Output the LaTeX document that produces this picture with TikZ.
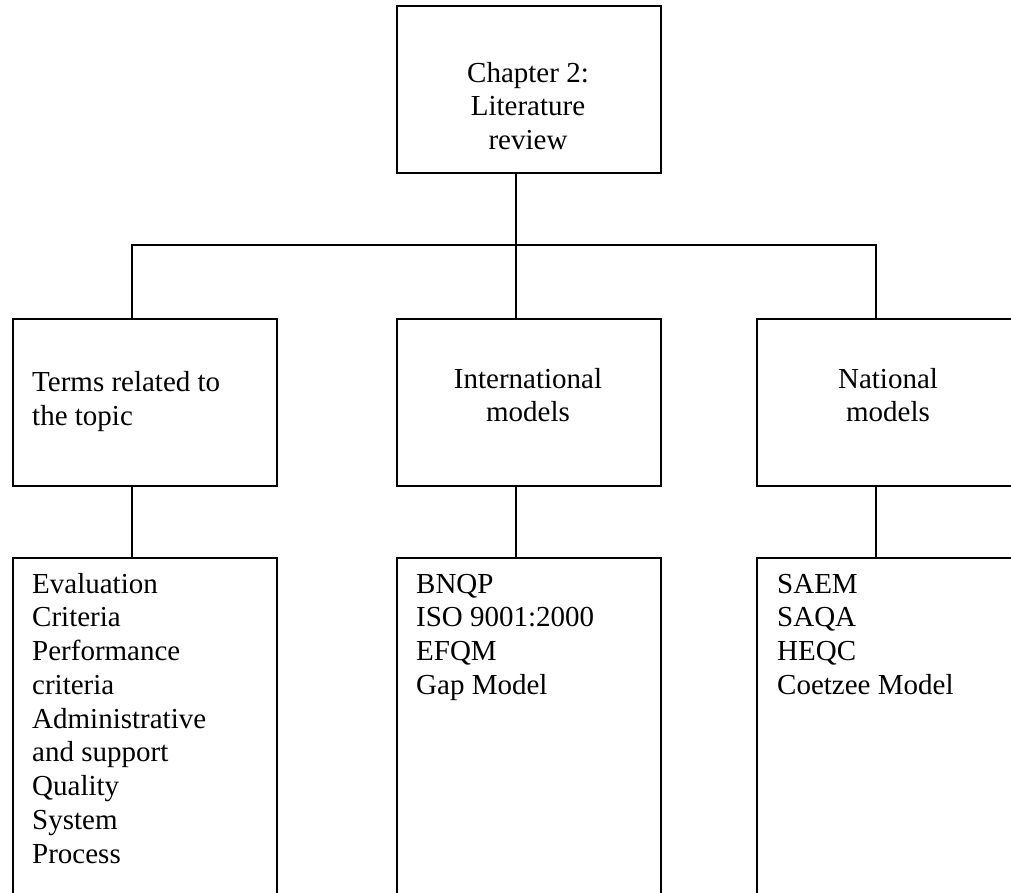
\documentclass[tikz,border=0pt]{standalone}
\usepackage{fontspec}
\setmainfont{Liberation Serif}
\usetikzlibrary{positioning}
\tikzset{
  box/.style={draw, line width=1.8pt, rectangle, inner sep=0pt, anchor=north west,
              minimum width=264pt},
  upper/.style={box, minimum height=167pt},
  lower/.style={box, minimum height=360pt},
  label text/.style={inner sep=0pt, font=\fontsize{29pt}{33.75pt}\selectfont},
  link/.style={line width=1.8pt, line cap=rect}
}
\newcommand{\linesleft}[1]{\begin{tabular}[t]{@{}l@{}}#1\end{tabular}}
\newcommand{\linescentre}[1]{\begin{tabular}[t]{@{}c@{}}#1\end{tabular}}
\begin{document}
\begin{tikzpicture}[x=1pt, y=-1pt]
  \clip (0,0) rectangle (1011,892);
  \fill[white] (0,0) rectangle (1011,892);

  % boxes
  \node[upper] (top) at (396,5) {};
  \node[upper] (terms) at (12,318) {};
  \node[upper] (intl) at (396,318) {};
  \node[upper] (natl) at (756,318) {};
  \node[lower] (termlist) at (12,557) {};
  \node[lower] (intllist) at (396,557) {};
  \node[lower] (natllist) at (756,557) {};

  % texts
  \node[label text, anchor=base] (toptext) at (528,82) {\linescentre{Chapter 2:\\Literature\\review}};
  \node[label text, anchor=base west] (termstext) at (32,391.5) {\linesleft{Terms related to\\the topic}};
  \node[label text, anchor=base] (intltext) at (528,388) {\linescentre{International\\models}};
  \node[label text, anchor=base] (natltext) at (888,388) {\linescentre{National\\models}};
  \node[label text, anchor=base west] (termlisttext) at (32,593)
    {\linesleft{Evaluation\\Criteria\\Performance\\criteria\\Administrative\\and support\\Quality\\System\\Process}};
  \node[label text, anchor=base west] (intllisttext) at (416,593)
    {\linesleft{BNQP\\ISO 9001:2000\\EFQM\\Gap Model}};
  \node[label text, anchor=base west] (natllisttext) at (777,593)
    {\linesleft{SAEM\\SAQA\\HEQC\\Coetzee Model}};

  % junctions on the branching bar
  \coordinate (jl) at (132,245);
  \coordinate (jm) at (516,245);
  \coordinate (jr) at (876,245);

  % connectors
  \draw[link] (jl) -- (jr);
  \draw[link] (top.south -| jm) -- (jm) -- (intl.north -| jm);
  \draw[link] (jl) -- (terms.north -| jl);
  \draw[link] (jr) -- (natl.north -| jr);
  \draw[link] (terms.south -| jl) -- (termlist.north -| jl);
  \draw[link] (intl.south -| jm) -- (intllist.north -| jm);
  \draw[link] (natl.south -| jr) -- (natllist.north -| jr);
\end{tikzpicture}
\end{document}
